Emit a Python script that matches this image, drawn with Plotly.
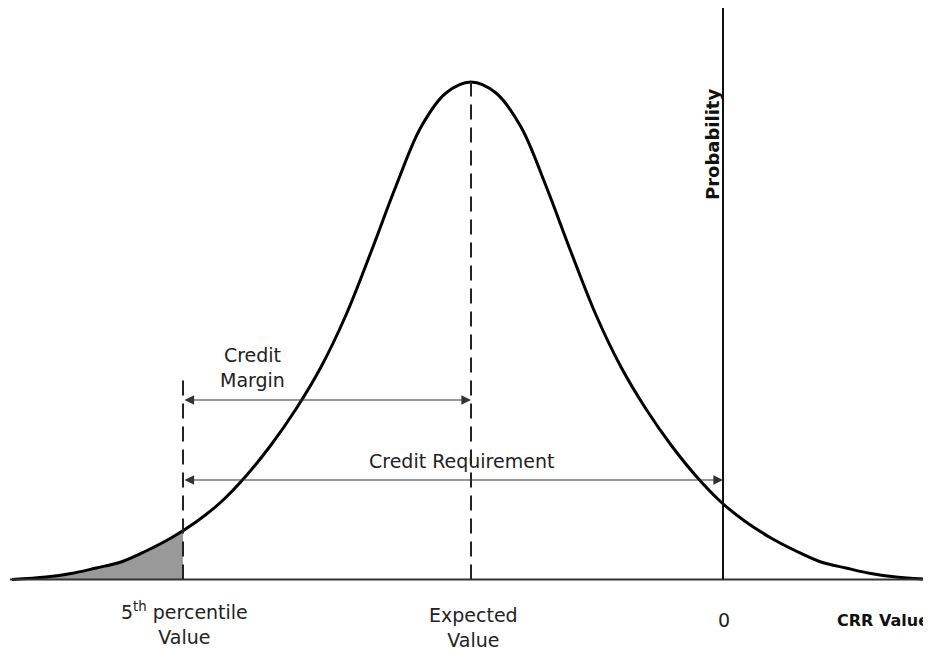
import plotly.graph_objects as go

# ---- data (CRR value axis: 0 at the Probability axis) ----
curve_crr = [-711, -677, -652, -627, -602, -577, -552, -527, -502, -477, -452,
             -427, -402, -377, -352, -327, -302, -277, -252,
             -227, -202, -177, -152, -127, -102, -77, -52, -27, -2,
             23, 48, 73, 98, 123, 148, 173, 207]
curve_prob = [0, 2.5, 6, 11.5, 17.5, 28.5, 41.5, 57.5, 77.5, 103.5, 134.5,
              170.5, 212.5, 264.5, 327.5, 393.5, 452.5, 486.5, 497.5,
              486.5, 452.5, 393.5, 327.5, 264.5, 212.5, 170.5, 134.5, 103.5, 77.5,
              57.5, 41.5, 28.5, 17.5, 11.5, 6, 2.5, 0]

percentile5_value = -540
percentile5_prob = 49.5
expected_value = -252
zero_value = 0

x_tick_values = [percentile5_value, expected_value, zero_value]
x_tick_labels = ["5<sup>th</sup> percentile<br>Value", "Expected<br>Value", "0"]
axis_title_x = "CRR Value"
axis_title_y = "Probability"
margin_label = "Credit<br>Margin"
requirement_label = "Credit Requirement"

# ---- figure ----
fig = go.Figure()

tail_pts = [(x, y) for x, y in zip(curve_crr, curve_prob) if x < percentile5_value]
tail_x = [p[0] for p in tail_pts] + [percentile5_value]
tail_y = [p[1] for p in tail_pts] + [percentile5_prob]

fig.add_trace(go.Scatter(x=tail_x, y=tail_y, mode="lines", fill="tozeroy",
                         fillcolor="#999999", line=dict(width=0, shape="spline"),
                         hoverinfo="skip"))

# baseline
fig.add_shape(type="line", x0=-713, x1=216, y0=0, y1=0,
              line=dict(color="#333333", width=2))
# probability axis
fig.add_shape(type="line", x0=zero_value, x1=zero_value, y0=0, y1=572.5,
              line=dict(color="#111111", width=2))
# dashed markers
fig.add_shape(type="line", x0=percentile5_value, x1=percentile5_value, y0=0, y1=201.5,
              line=dict(color="#222222", width=2, dash="15px,8px"))
fig.add_shape(type="line", x0=expected_value, x1=expected_value, y0=0, y1=max(curve_prob),
              line=dict(color="#222222", width=2, dash="15px,8px"))

fig.add_trace(go.Scatter(x=curve_crr, y=curve_prob, mode="lines",
                         line=dict(color="#000000", width=3, shape="spline", smoothing=1),
                         hoverinfo="skip"))

font = dict(family="DejaVu Sans", size=19, color="#222222")

# arrows
for x_end, y_lvl in [(expected_value, 179.5), (zero_value, 99.5)]:
    fig.add_annotation(x=x_end, y=y_lvl, ax=percentile5_value, ay=y_lvl,
                       xref="x", yref="y", axref="x", ayref="y", text="",
                       showarrow=True, arrowhead=2, arrowside="end+start",
                       arrowsize=1.6, arrowwidth=1.2, arrowcolor="#333333",
                       standoff=0, startstandoff=0)

fig.add_annotation(x=-471, y=212, text=margin_label, showarrow=False,
                   xanchor="center", yanchor="middle", font=font)
fig.add_annotation(x=-262, y=118.5, text=requirement_label, showarrow=False,
                   xanchor="center", yanchor="middle", font=font)

label_y = [-44, -47.5, -40.5]
label_dx = [1, 2, 1]
for xv, lab, ly, dx in zip(x_tick_values, x_tick_labels, label_y, label_dx):
    fig.add_annotation(x=xv + dx, y=ly, text=lab, showarrow=False,
                       xanchor="center", yanchor="middle", font=font)

fig.add_annotation(x=160, y=-40.5, text="<b>" + axis_title_x + "</b>", showarrow=False,
                   xanchor="center", yanchor="middle",
                   font=dict(family="DejaVu Sans", size=16, color="#111111"))
fig.add_annotation(x=-11, y=434.5, text="<b>" + axis_title_y + "</b>", showarrow=False,
                   textangle=-90, xanchor="center", yanchor="middle",
                   font=dict(family="DejaVu Sans", size=18, color="#111111"))

# the page body adds an 8px offset; ranges are shifted to compensate
fig.update_layout(width=931, height=649, margin=dict(l=0, r=0, t=0, b=0),
                  paper_bgcolor="white", plot_bgcolor="white", showlegend=False)
fig.update_xaxes(visible=False, range=[-715, 216])
fig.update_yaxes(visible=False, range=[-77.5, 571.5])

fig.write_html("out.html")
